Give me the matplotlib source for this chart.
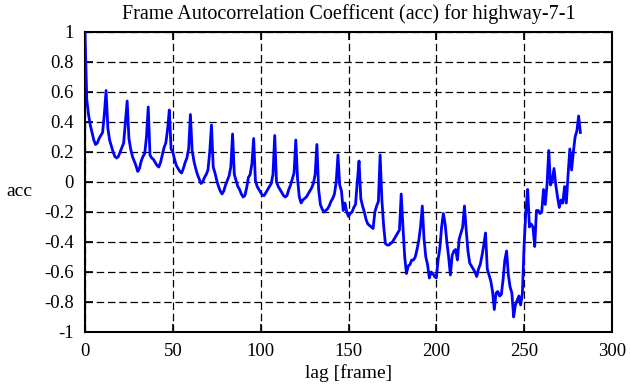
import matplotlib
matplotlib.use("Agg")
import matplotlib.pyplot as plt
import numpy as np

title = "Frame Autocorrelation Coefficent (acc) for highway-7-1"
xlabel = "lag [frame]"
ylabel = "acc"

acc = [
    1.00, 0.55, 0.45, 0.38, 0.33, 0.28, 0.25, 0.26, 0.29, 0.31, 0.33, 0.45,
    0.61, 0.36, 0.28, 0.24, 0.20, 0.17, 0.16, 0.17, 0.20, 0.23, 0.26, 0.40,
    0.54, 0.29, 0.22, 0.17, 0.14, 0.11, 0.07, 0.09, 0.14, 0.17, 0.19, 0.30,
    0.50, 0.18, 0.16, 0.15, 0.13, 0.11, 0.10, 0.13, 0.18, 0.23, 0.26, 0.35,
    0.48, 0.22, 0.20, 0.15, 0.11, 0.09, 0.07, 0.06, 0.09, 0.13, 0.16, 0.22,
    0.45, 0.21, 0.14, 0.09, 0.05, 0.02, -0.01, 0.00, 0.03, 0.05, 0.08, 0.20,
    0.38, 0.10, 0.06, 0.01, -0.03, -0.06, -0.08, -0.06, -0.02, 0.01, 0.04, 0.10,
    0.32, 0.05, 0.01, -0.03, -0.05, -0.08, -0.10, -0.09, -0.04, 0.03, 0.05, 0.12,
    0.29, 0.01, -0.03, -0.05, -0.07, -0.09, -0.09, -0.07, -0.05, -0.03, -0.01, 0.05,
    0.31, 0.00, -0.03, -0.05, -0.07, -0.09, -0.10, -0.09, -0.05, -0.02, 0.02, 0.06,
    0.28, 0.02, -0.10, -0.14, -0.12, -0.11, -0.10, -0.08, -0.06, -0.04, -0.01, 0.05,
    0.25, -0.05, -0.15, -0.18, -0.20, -0.19, -0.18, -0.16, -0.13, -0.11, -0.08, 0.00,
    0.18, -0.02, -0.06, -0.19, -0.14, -0.20, -0.23, -0.21, -0.20, -0.17, -0.15, 0.00,
    0.14, -0.11, -0.16, -0.20, -0.25, -0.28, -0.29, -0.30, -0.31, -0.20, -0.16, -0.13,
    0.18, -0.12, -0.29, -0.41, -0.42, -0.42, -0.41, -0.40, -0.38, -0.36, -0.34, -0.32,
    -0.08, -0.30, -0.50, -0.61, -0.56, -0.55, -0.52, -0.52, -0.50, -0.45, -0.39, -0.30,
    -0.16, -0.38, -0.50, -0.55, -0.64, -0.60, -0.61, -0.63, -0.64, -0.52, -0.44, -0.30,
    -0.21, -0.28, -0.40, -0.50, -0.62, -0.49, -0.46, -0.45, -0.52, -0.38, -0.34, -0.30,
    -0.16, -0.32, -0.46, -0.54, -0.56, -0.58, -0.60, -0.63, -0.58, -0.55, -0.49, -0.42,
    -0.34, -0.58, -0.62, -0.66, -0.73, -0.85, -0.74, -0.73, -0.76, -0.75, -0.65, -0.52,
    -0.46, -0.62, -0.70, -0.74, -0.90, -0.82, -0.79, -0.76, -0.82, -0.74, -0.41, -0.19,
    -0.05, -0.30, -0.28, -0.30, -0.43, -0.19, -0.19, -0.21, -0.20, -0.05, -0.15, -0.02,
    0.21, -0.02, 0.01, 0.09, -0.02, -0.10, -0.17, -0.12, -0.14, -0.03, -0.14, 0.05,
    0.22, 0.08, 0.20, 0.30, 0.34, 0.44, 0.33,
]
lags = np.arange(len(acc))

xticks = [0, 50, 100, 150, 200, 250, 300]
yticks = [-1, -0.8, -0.6, -0.4, -0.2, 0, 0.2, 0.4, 0.6, 0.8, 1]
yticklabels = ["-1", "-0.8", "-0.6", "-0.4", "-0.2", "0", "0.2", "0.4", "0.6", "0.8", "1"]

plt.rcParams['font.family'] = ['Liberation Serif', 'DejaVu Serif']

fig = plt.figure(figsize=(6.3, 3.87), dpi=100)
ax = fig.add_axes([85/630, 1-332/387, (612-85)/630, (332-32)/387])

ax.plot(lags, acc, color=(0, 0, 1), lw=2.0, zorder=3)

ax.set_xlim(0, 300)
ax.set_ylim(-1, 1)
ax.set_xticks(xticks)
ax.set_xticklabels([str(t) for t in xticks])
ax.set_yticks(yticks)
ax.set_yticklabels(yticklabels)
ax.grid(True, color='black', linestyle=(0, (6, 3)), lw=0.9)
ax.tick_params(direction='in', length=6, width=1.2, top=True, right=True,
               labelsize=13.5, pad=8, colors='black')
for s in ax.spines.values():
    s.set_linewidth(1.5)

ax.set_title(title, fontsize=14.5, pad=9)
ax.set_xlabel(xlabel, fontsize=14, labelpad=3)
ax.set_ylabel(ylabel, fontsize=14, rotation=0, va='center')
ax.yaxis.set_label_coords(-0.125, 0.47)

fig.savefig("out.png", dpi=100)
